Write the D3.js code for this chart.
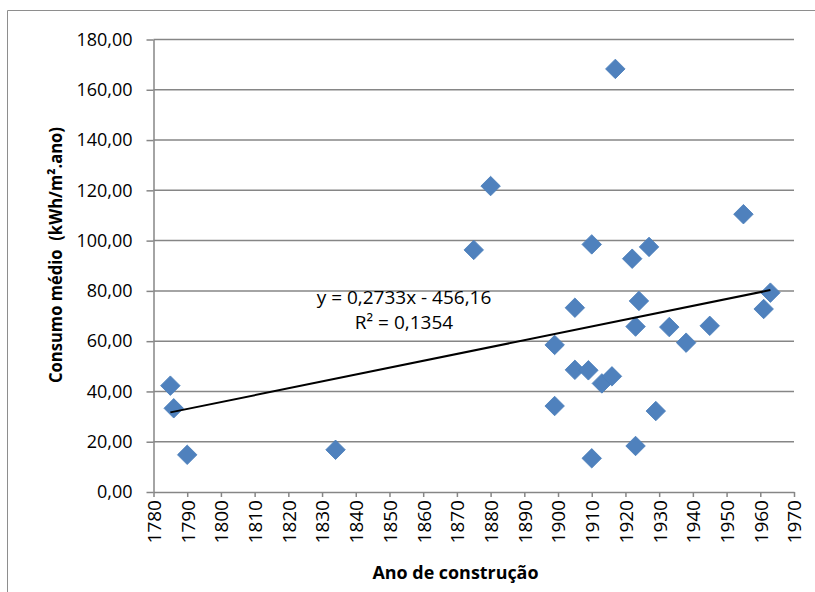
<!DOCTYPE html>
<html>
<head>
<meta charset="utf-8">
<script src="https://cdn.jsdelivr.net/npm/d3@7"></script>
<style>
  html, body { margin: 0; padding: 0; background: #fff; }
  svg { display: block; }
  text { font-family: "Open Sans", "Noto Sans", sans-serif; fill: #000; }
</style>
</head>
<body>
<div id="chart"></div>
<script>
// ---- data ----
const years = [1785, 1786, 1790, 1834, 1875, 1880, 1899, 1899, 1905, 1905,
               1909, 1910, 1910, 1913, 1916, 1917, 1922, 1923, 1923, 1924,
               1927, 1929, 1933, 1938, 1945, 1955, 1961, 1963];
const consumo = [42.3, 33.3, 14.8, 16.8, 96.3, 121.7, 58.5, 34.2, 73.3, 48.6,
                 48.4, 98.5, 13.4, 43.2, 46.0, 168.3, 92.8, 65.8, 18.3, 76.0,
                 97.5, 32.2, 65.6, 59.4, 66.1, 110.5, 72.8, 79.3];
const xTicks = [1780, 1790, 1800, 1810, 1820, 1830, 1840, 1850, 1860, 1870,
                1880, 1890, 1900, 1910, 1920, 1930, 1940, 1950, 1960, 1970];
const yTicks = [0, 20, 40, 60, 80, 100, 120, 140, 160, 180];
const trendSlope = 0.2733;
const trendIntercept = -456.16;
const eqLabel = "y = 0,2733x - 456,16";
const r2Label = "R\u00B2 = 0,1354";
const xTitle = "Ano de construção";
const yTitle = "Consumo médio  (kWh/m\u00B2.ano)";

// ---- layout ----
const W = 815, H = 592;
const svg = d3.select("#chart").append("svg").attr("width", W).attr("height", H);

const x = d3.scaleLinear().domain([1780, 1970]).range([153.5, 794]);
const y = d3.scaleLinear().domain([0, 180]).range([492, 39.5]);
const gridColor = "#868686";

// outer frame (chart area border, partially cropped)
svg.append("path")
  .attr("d", `M7.5,${H} V10.5 H${W}`)
  .attr("fill", "none").attr("stroke", "#8e8e8e").attr("stroke-width", 1);

// gridlines
svg.append("g").selectAll("line")
  .data(yTicks.filter(d => d > 0))
  .join("line")
  .attr("x1", x.range()[0]).attr("x2", x.range()[1])
  .attr("y1", d => y(d)).attr("y2", d => y(d))
  .attr("stroke", gridColor).attr("stroke-width", 1.5);

// y axis
const yAxis = svg.append("g")
  .attr("transform", `translate(${x.range()[0]},0)`)
  .call(d3.axisLeft(y).tickValues(yTicks).tickSize(7).tickSizeOuter(0).tickPadding(14)
    .tickFormat(d => d.toFixed(2).replace(".", ",")));
yAxis.selectAll("path, line").attr("stroke", gridColor).attr("stroke-width", 1.5);
yAxis.selectAll("text").attr("font-size", 18).attr("font-family", null).attr("fill", "#000");

// x axis
const xAxis = svg.append("g")
  .attr("transform", `translate(0,${y(0)})`)
  .call(d3.axisBottom(x).tickValues(xTicks).tickSize(5).tickSizeOuter(0)
    .tickFormat(d3.format("d")));
xAxis.selectAll("path, line").attr("stroke", gridColor).attr("stroke-width", 1.5);
xAxis.selectAll("text")
  .attr("font-size", 19).attr("font-family", null).attr("fill", "#000")
  .attr("transform", "rotate(-90)")
  .attr("x", -8).attr("y", 0).attr("dy", "0.36em")
  .style("text-anchor", "end");

// points
const pts = years.map((yr, i) => ({ yr, v: consumo[i] }));
const sym = d3.symbol().type(d3.symbolSquare).size(190);
svg.append("g").selectAll("path")
  .data(pts)
  .join("path")
  .attr("d", sym)
  .attr("transform", d => `translate(${x(d.yr)},${y(d.v)}) rotate(45)`)
  .attr("fill", "#4F81BD")
  .attr("stroke", "#4A7EBB").attr("stroke-width", 0.8);

// trend line
const xMin = d3.min(years), xMax = d3.max(years);
svg.append("line")
  .attr("x1", x(xMin)).attr("y1", y(trendSlope * xMin + trendIntercept))
  .attr("x2", x(xMax)).attr("y2", y(trendSlope * xMax + trendIntercept))
  .attr("stroke", "#000").attr("stroke-width", 2);

// equation labels
svg.append("text").attr("x", 404).attr("y", 304)
  .attr("text-anchor", "middle").attr("font-size", 19).text(eqLabel);
svg.append("text").attr("x", 404).attr("y", 329)
  .attr("text-anchor", "middle").attr("font-size", 19).text(r2Label);

// axis titles
svg.append("text")
  .attr("x", 455.5).attr("y", 579)
  .attr("text-anchor", "middle").attr("font-size", 18).attr("font-weight", "bold")
  .attr("textLength", 166).attr("lengthAdjust", "spacingAndGlyphs")
  .text(xTitle);

svg.append("text")
  .attr("transform", "translate(62,255) rotate(-90)")
  .attr("text-anchor", "middle").attr("font-size", 18).attr("font-weight", "bold")
  .style("white-space", "pre")
  .attr("textLength", 256).attr("lengthAdjust", "spacingAndGlyphs")
  .text(yTitle);
</script>
</body>
</html>
